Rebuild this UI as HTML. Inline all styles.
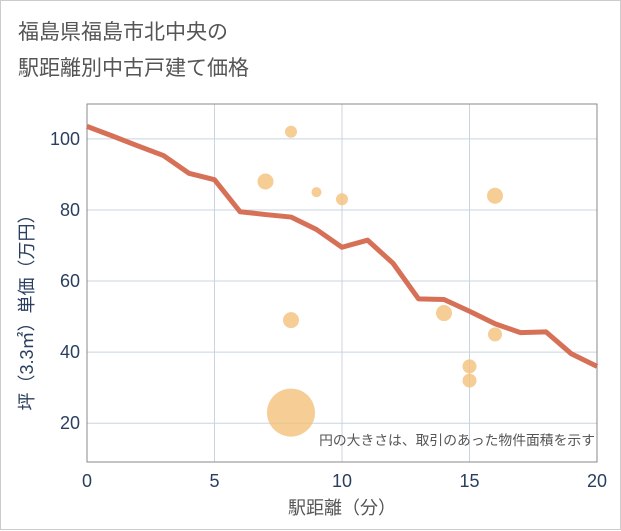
<!DOCTYPE html>
<html><head><meta charset="utf-8"><style>
body{margin:0;background:#fff;}
#wrap{position:relative;width:619px;height:528px;border:1px solid #ccc;background:#fff;font-family:"Liberation Sans","Noto Sans CJK JP",sans-serif;}
#title{position:absolute;left:17px;top:14px;font-size:21px;line-height:36px;color:#555;}
svg{position:absolute;left:0;top:0;}
</style></head><body>
<div id="wrap">
<div id="title">福島県福島市北中央の<br>駅距離別中古戸建て価格</div>
<svg id="c" width="621" height="530"></svg>
</div>
<script>
const lineX=[0,1,2,3,4,5,6,7,8,9,10,11,12,13,14,15,16,17,18,19,20];
const lineY=[103.5,100.8,98,95.3,90.3,88.5,79.5,78.7,78,74.5,69.5,71.5,65,55,54.8,51.5,48,45.5,45.7,39.5,36];
const bubX=[8,7,9,10,16,8,14,16,15,15,8];
const bubY=[102,88,85,83,84,49,51,45,36,32,23];
const bubR=[6,8,5,6,8,8,8,7,7,7,24];
const xTicks=[0,5,10,15,20];
const yTicks=[20,40,60,80,100];
const L=86,R=596,T=103,B=461,xMin=0,xMax=20,yMin=9.1,yMax=109.8;
const sx=v=>L+(v-xMin)/(xMax-xMin)*(R-L);
const sy=v=>B-(v-yMin)/(yMax-yMin)*(B-T);
const svg=document.getElementById('c');const NS='http://www.w3.org/2000/svg';
function mk(t,a){const e=document.createElementNS(NS,t);for(const k in a)e.setAttribute(k,a[k]);svg.appendChild(e);return e;}
xTicks.forEach(t=>{
 const g=mk('line',{x1:sx(t),x2:sx(t),y1:T,y2:B,stroke:'#c8d4e0','stroke-width':1});
 
 
 const s=mk('text',{x:sx(t),y:486,'text-anchor':'middle','font-size':18,fill:'#2a3f5f'});s.textContent=t;
 
 
});
yTicks.forEach(t=>{
 const g=mk('line',{x1:L,x2:R,y1:sy(t),y2:sy(t),stroke:'#c8d4e0','stroke-width':1});
 
 
 const s=mk('text',{x:79,y:sy(t)+6,'text-anchor':'end','font-size':18,fill:'#2a3f5f'});s.textContent=t;
 
 
});
const fr=mk('path',{d:`M${L},${T}H${R}V${B}H${L}Z`,fill:'none',stroke:'#888','stroke-width':1});


bubX.forEach((x,i)=>{
 const c=mk('circle',{cx:sx(x),cy:sy(bubY[i]),r:bubR[i],fill:'#f3c17a','fill-opacity':0.8});
 
 
});
const p=mk('polyline',{points:lineX.map((x,i)=>sx(x)+','+sy(lineY[i])).join(' '),fill:'none',stroke:'#d4694f','stroke-width':5,'stroke-linejoin':'round','stroke-opacity':0.95});


const n=mk('text',{x:594,y:444,'text-anchor':'end','font-size':13.8,fill:'#555'});n.textContent='円の大きさは、取引のあった物件面積を示す';


const xt=mk('text',{x:sx(10),y:513,'text-anchor':'middle','font-size':18,fill:'#555'});xt.textContent='駅距離（分）';


const yt=mk('text',{x:0,y:0,'text-anchor':'middle','font-size':18,fill:'#2a3f5f',transform:`translate(32,${(T+B)/2+25}) rotate(-90)`});yt.textContent='坪（3.3㎡）単価（万円）';


</script>
</body></html>
